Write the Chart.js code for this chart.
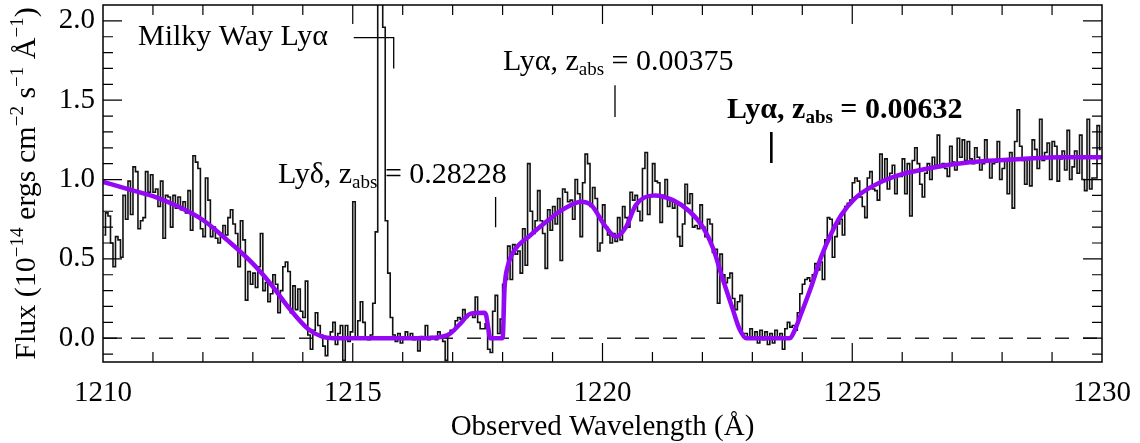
<!DOCTYPE html>
<html>
<head>
<meta charset="utf-8">
<script src="https://cdn.jsdelivr.net/npm/chart.js@4.4.1/dist/chart.umd.min.js"></script>
<style>
  html, body { margin: 0; padding: 0; background: #fff; }
  #wrap { width: 1140px; height: 443px; }
</style>
</head>
<body>
<div id="wrap"><canvas id="spectrum" width="1140" height="443"></canvas></div>
<script>
// observed spectrum, 0.05 A bins starting at 1210.0 A
const waveStart = 1210.0;
const binWidth = 0.05;
const fluxObs = [
  0.65,0.79,0.77,0.60,0.45,0.64,0.62,0.51,0.90,0.75,0.99,0.78,1.08,1.05,0.69,0.74,0.76,1.05,0.92,1.03,
  0.92,0.94,0.83,0.99,0.63,0.90,0.89,0.70,0.90,0.82,0.89,0.81,0.86,0.79,0.93,0.68,1.15,1.11,1.07,0.69,
  0.64,1.01,0.87,0.64,0.70,0.63,0.60,0.66,0.71,0.65,0.76,0.81,0.72,0.66,0.45,0.74,0.62,0.24,0.42,0.34,
  0.41,0.32,0.45,0.66,0.30,0.35,0.23,0.28,0.40,0.34,0.16,0.30,0.45,0.48,0.42,0.16,0.33,0.18,0.31,0.17,
  0.13,0.36,0.02,-0.07,0.05,0.16,0.08,0.02,-0.05,-0.11,0.00,0.04,0.10,-0.04,0.03,0.08,-0.14,0.08,-0.02,0.04,
  0.86,0.00,0.11,0.23,0.10,0.00,-0.01,0.02,0.22,0.67,3.50,5.00,1.96,0.74,0.41,0.13,0.02,-0.02,0.03,-0.03,
  0.00,0.04,0.00,0.03,-0.01,0.00,-0.08,0.01,0.00,0.08,-0.01,0.01,0.00,-0.01,0.04,0.00,-0.02,-0.14,0.03,0.05,
  0.05,0.11,0.13,0.12,0.18,0.13,0.15,0.16,0.13,0.26,0.10,0.06,0.06,0.09,-0.07,-0.09,0.17,0.27,0.03,0.12,
  0.34,0.37,0.58,0.37,0.59,0.53,0.55,0.41,0.69,0.46,1.10,0.80,0.66,0.74,0.93,0.74,0.66,0.44,0.81,0.68,
  0.83,0.72,0.88,0.49,0.94,0.92,0.86,0.87,0.75,1.00,0.91,0.64,0.98,1.16,1.10,0.83,0.95,0.88,0.55,0.60,
  0.84,0.70,0.65,0.60,0.66,0.61,0.76,0.62,0.83,0.76,0.70,0.92,0.87,0.90,0.80,0.74,1.07,1.17,0.78,0.90,
  1.10,0.99,0.98,0.73,0.90,1.00,0.83,0.87,0.82,0.86,0.64,0.58,0.72,0.97,0.85,0.91,0.70,0.71,0.69,0.84,
  0.70,0.64,0.75,0.72,0.54,0.56,0.22,0.53,0.40,0.35,0.38,0.41,0.25,0.18,0.23,0.27,0.03,0.03,0.00,0.06,
  0.00,0.04,-0.03,0.05,-0.01,0.04,-0.04,0.03,-0.03,0.05,0.00,0.03,-0.07,0.06,0.10,0.07,0.08,0.05,0.16,0.28,
  0.34,0.37,0.38,0.36,0.40,0.47,0.43,0.48,0.37,0.62,0.76,0.75,0.51,0.64,0.72,0.75,0.65,0.83,0.85,0.87,
  0.98,1.01,0.99,0.89,0.83,0.76,1.01,1.05,0.94,0.93,0.87,1.16,0.99,1.13,0.94,1.04,1.09,0.91,1.02,1.02,
  1.13,0.91,1.10,0.77,1.12,1.20,1.10,0.97,0.89,1.04,1.10,1.00,1.14,1.09,1.28,1.08,1.10,1.07,1.02,1.21,
  1.11,1.06,1.26,1.14,1.25,1.12,1.24,1.13,1.10,1.20,1.14,1.06,1.10,1.25,1.12,1.01,1.10,1.11,1.24,1.00,
  1.07,1.12,0.91,1.17,0.82,1.24,1.44,1.21,1.12,0.97,1.13,0.96,1.25,1.19,1.07,1.38,1.12,1.17,1.23,1.00,
  1.24,1.21,0.99,1.13,1.18,1.06,1.31,1.00,1.08,1.18,1.04,1.28,1.00,0.93,1.38,0.94,1.01,1.01,1.34,1.19
];

// fitted model (purple)
const modelWave = [1210.0,1210.5,1211.0,1211.5,1212.0,1212.5,1213.0,1213.35,1213.75,1214.1,1214.4,1214.6,
  1216.4,1216.9,1217.15,1217.36,1217.63,1217.67,1217.71,1217.75,1218.0,1218.04,1218.1,1218.2,1218.56,
  1218.9,1219.2,1219.57,1219.77,1220.07,1220.27,1220.47,1220.67,1221.04,1221.41,1221.74,1222.01,1222.21,
  1222.41,1222.61,1222.74,1222.88,1223.75,1223.85,1223.98,1224.18,1224.38,1224.58,1224.78,1225.05,
  1225.39,1225.85,1226.52,1227.39,1228.39,1229.2,1230.0];
const modelFlux = [0.985,0.94,0.895,0.83,0.745,0.615,0.47,0.345,0.18,0.06,0.008,0.0,
  0.0,0.02,0.09,0.155,0.16,0.145,0.07,0.0,0.0,0.32,0.45,0.535,0.65,
  0.74,0.81,0.86,0.84,0.70,0.64,0.70,0.84,0.90,0.87,0.80,0.70,0.57,
  0.37,0.18,0.06,0.0,0.0,0.052,0.157,0.326,0.514,0.66,0.776,0.88,
  0.955,1.02,1.07,1.11,1.13,1.14,1.14];

const xTicks = [1210, 1215, 1220, 1225, 1230];
const yTicks = [0.0, 0.5, 1.0, 1.5, 2.0];

// line identifications
const mwMarkX = [1215.02, 1215.82, 1215.82];
const mwMarkY = [1.894, 1.894, 1.70];
const lydMarkX = [1217.86, 1217.86];
const lydMarkY = [0.89, 0.70];
const lya1MarkX = [1220.25, 1220.25];
const lya1MarkY = [1.595, 1.394];
const lya2MarkX = [1223.38, 1223.38];
const lya2MarkY = [1.30, 1.104];

const serif = '"Liberation Serif", "Times New Roman", serif';

function pairs(xs, ys) {
  return xs.map((x, i) => ({ x: x, y: ys[i] }));
}

// text with sub/superscripts, parts = [[text, 'sub'|'sup'|'' ], ...]
function drawRich(ctx, x, y, parts, size, weight) {
  let cx = x;
  parts.forEach(p => {
    const small = p[1] === 'sub' || p[1] === 'sup';
    const fs = small ? Math.round(size * 0.62) : size;
    ctx.font = `${weight} ${fs}px ${serif}`;
    let dy = 0;
    if (p[1] === 'sub') dy = size * 0.18;
    if (p[1] === 'sup') dy = -size * 0.4;
    ctx.fillText(p[0], cx, y + dy);
    cx += ctx.measureText(p[0]).width;
  });
  return cx - x;
}

function richWidth(ctx, parts, size, weight) {
  let w = 0;
  parts.forEach(p => {
    const small = p[1] === 'sub' || p[1] === 'sup';
    ctx.font = `${weight} ${small ? Math.round(size * 0.62) : size}px ${serif}`;
    w += ctx.measureText(p[0]).width;
  });
  return w;
}

const decorations = {
  id: 'decorations',
  afterDatasetsDraw(chart) {
    const { ctx, chartArea: a, scales: { x, y } } = chart;
    ctx.save();
    ctx.strokeStyle = '#000';
    ctx.lineWidth = 1.2;
    ctx.beginPath();
    for (let w = 1211; w < 1230; w++) {
      const px = x.getPixelForValue(w);
      const len = w % 5 === 0 ? 19 : 10;
      ctx.moveTo(px, a.bottom); ctx.lineTo(px, a.bottom - len);
      ctx.moveTo(px, a.top); ctx.lineTo(px, a.top + len);
    }
    for (let k = -1; k <= 20; k++) {
      const py = y.getPixelForValue(k / 10);
      const len = k % 5 === 0 ? 19 : 10;
      ctx.moveTo(a.left, py); ctx.lineTo(a.left + len, py);
      ctx.moveTo(a.right, py); ctx.lineTo(a.right - len, py);
    }
    ctx.stroke();
    ctx.lineWidth = 1.5;
    ctx.strokeRect(a.left, a.top, a.right - a.left, a.bottom - a.top);

    ctx.fillStyle = '#000';
    ctx.textBaseline = 'alphabetic';
    ctx.textAlign = 'left';
    drawRich(ctx, 138, 45, [['Milky Way Ly\u03b1', '']], 30, 'normal');
    drawRich(ctx, 278, 183, [['Ly\u03b4, z', ''], ['abs', 'sub'], [' = 0.28228', '']], 30, 'normal');
    drawRich(ctx, 503, 70, [['Ly\u03b1, z', ''], ['abs', 'sub'], [' = 0.00375', '']], 30, 'normal');
    drawRich(ctx, 727, 118, [['Ly\u03b1, z', ''], ['abs', 'sub'], [' = 0.00632', '']], 30, 'bold');

    // y axis title
    const title = [['Flux (10', ''], ['\u221214', 'sup'], [' ergs cm', ''], ['\u22122', 'sup'],
      [' s', ''], ['\u22121', 'sup'], [' \u00c5', ''], ['\u22121', 'sup'], [')', '']];
    const tw = richWidth(ctx, title, 30, 'normal');
    ctx.translate(35, (a.top + a.bottom) / 2);
    ctx.rotate(-Math.PI / 2);
    drawRich(ctx, -tw / 2, 0, title, 30, 'normal');
    ctx.restore();

    ctx.save();
    ctx.fillStyle = '#000';
    ctx.font = `29px ${serif}`;
    ctx.textAlign = 'center';
    ctx.fillText('Observed Wavelength (\u00c5)', (a.left + a.right) / 2, 435);
    ctx.restore();
  }
};

const obsPoints = fluxObs.map((f, i) => ({ x: waveStart + binWidth * (i + 0.5), y: f }));
const markerStyle = { borderColor: '#000', borderWidth: 1.3, pointRadius: 0, fill: false };

new Chart(document.getElementById('spectrum'), {
  type: 'line',
  data: {
    datasets: [
      {
        label: 'Model',
        data: pairs(modelWave, modelFlux),
        borderColor: 'rgb(148, 8, 245)',
        borderWidth: 4.5,
        pointRadius: 0,
        cubicInterpolationMode: 'monotone',
        order: 0
      },
      {
        label: 'Observed',
        data: obsPoints,
        borderColor: '#111',
        borderWidth: 1.6,
        pointRadius: 0,
        stepped: 'middle',
        order: 1
      },
      {
        label: 'Zero',
        data: pairs([1210, 1230], [0, 0]),
        borderColor: '#000',
        borderWidth: 1.3,
        borderDash: [14, 14],
        pointRadius: 0,
        order: 2
      },
      Object.assign({ label: 'MW', data: pairs(mwMarkX, mwMarkY), order: 3 }, markerStyle),
      Object.assign({ label: 'Lyd', data: pairs(lydMarkX, lydMarkY), order: 3 }, markerStyle),
      Object.assign({ label: 'Lya1', data: pairs(lya1MarkX, lya1MarkY), order: 3 }, markerStyle),
      Object.assign({ label: 'Lya2', data: pairs(lya2MarkX, lya2MarkY), order: 3 }, markerStyle, { borderWidth: 2.6 })
    ]
  },
  options: {
    responsive: false,
    animation: false,
    layout: { padding: { top: 5, right: 38, left: 0, bottom: 0 } },
    plugins: { legend: { display: false }, tooltip: { enabled: false } },
    scales: {
      x: {
        type: 'linear',
        min: 1210,
        max: 1230,
        grid: { display: false, drawTicks: false },
        border: { display: false },
        afterBuildTicks: s => { s.ticks = xTicks.map(v => ({ value: v })); },
        afterFit: s => { s.height = 81; s.paddingLeft = 0; s.paddingRight = 0; },
        ticks: {
          font: { family: serif, size: 29 },
          color: '#000',
          padding: 14,
          maxRotation: 0,
          autoSkip: false,
          callback: v => String(v)
        }
      },
      y: {
        type: 'linear',
        min: -0.15,
        max: 2.1,
        grid: { display: false, drawTicks: false },
        border: { display: false },
        afterBuildTicks: s => { s.ticks = yTicks.map(v => ({ value: v })); },
        afterFit: s => { s.width = 103; s.paddingTop = 0; s.paddingBottom = 0; },
        ticks: {
          font: { family: serif, size: 29 },
          color: '#000',
          padding: 8,
          autoSkip: false,
          callback: v => v.toFixed(1)
        }
      }
    }
  },
  plugins: [decorations]
});
</script>
</body>
</html>
